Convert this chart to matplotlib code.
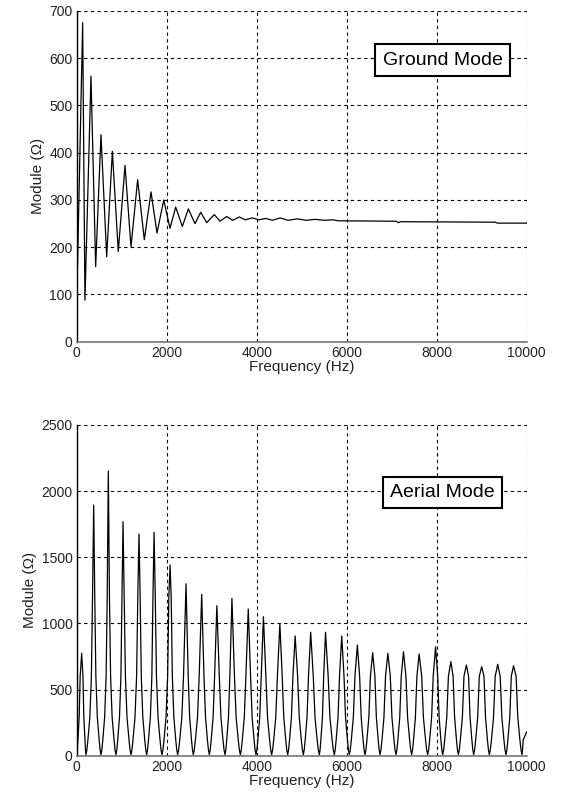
import numpy as np
import matplotlib.pyplot as plt
from matplotlib import font_manager

# values
ground_hz = [0, 133, 184, 318, 422, 540, 667, 793, 925, 1074, 1207, 1355, 1503, 1652,
             1785, 1935, 2074, 2200, 2348, 2481, 2630, 2756, 2889, 3059, 3185, 3333,
             3467, 3615, 3750, 3900, 4050, 4200, 4350, 4520, 4700, 4900, 5100, 5300,
             5500, 5700, 5800, 7100, 7150, 7200, 9300, 9350, 10000]
ground_val = [75, 675, 88, 562, 159, 438, 180, 403, 191, 373, 201, 343, 216, 317,
              230, 300, 240, 285, 244, 281, 250, 274, 252, 269, 255, 265,
              257, 264, 258, 262, 258, 261, 257, 262, 257, 260, 257, 259,
              257, 258, 256, 255, 252, 254, 253, 251, 251]

aerial_peak_hz = [111, 378, 703, 1030, 1385, 1720, 2075, 2430, 2778, 3115, 3450, 3813,
                  4150, 4515, 4855, 5200, 5530, 5890, 6237, 6578, 6915, 7262, 7610,
                  7975, 8315, 8660, 9000, 9356, 9708]
aerial_peak_val = [774, 1895, 2152, 1769, 1676, 1689, 1442, 1300, 1220, 1134, 1190, 1109,
                   1051, 996, 905, 933, 933, 905, 837, 779, 774, 786, 769,
                   824, 711, 686, 673, 691, 680]
aerial_trough_hz = [0, 207, 540, 873, 1207, 1555, 1896, 2244, 2592, 2948, 3296, 3637,
                    3985, 4333, 4689, 5037, 5392, 5725, 6059, 6407, 6741, 7096, 7444,
                    7800, 8133, 8481, 8822, 9170, 9540, 9896]
aerial_trough_val = [0, 8, 8, 8, 8, 8, 8, 8, 8, 8, 8, 8,
                     8, 8, 8, 8, 8, 8, 8, 8, 8, 8, 8,
                     8, 8, 8, 8, 8, 8, 8]
aerial_end_val = 180

# shape of the flanks between a trough and a peak
flank_frac = [0.12, 0.25, 0.5, 0.7, 0.85]
flank_level = [45, 120, 290, 600, 1200]

# build the aerial line: trough -> flank -> peak -> flank -> trough
ax_hz, ax_val = [], []
for i, (ph, pv) in enumerate(zip(aerial_peak_hz, aerial_peak_val)):
    t0 = aerial_trough_hz[i]
    t1 = aerial_trough_hz[i + 1]
    ax_hz.append(t0)
    ax_val.append(aerial_trough_val[i])
    for f, lv in zip(flank_frac, flank_level):
        if lv < 0.9 * pv:
            ax_hz.append(t0 + f * (ph - t0))
            ax_val.append(lv)
    ax_hz.append(ph)
    ax_val.append(pv)
    for f, lv in zip(flank_frac[::-1], flank_level[::-1]):
        if lv < 0.9 * pv:
            ax_hz.append(t1 - f * (t1 - ph))
            ax_val.append(lv)
ax_hz.append(aerial_trough_hz[-1])
ax_val.append(aerial_trough_val[-1])
for f, lv in zip(flank_frac, flank_level):
    if lv < aerial_end_val:
        ax_hz.append(aerial_trough_hz[-1] + f * (10000 - aerial_trough_hz[-1]))
        ax_val.append(lv)
ax_hz.append(10000)
ax_val.append(aerial_end_val)

names = {f.name for f in font_manager.fontManager.ttflist}
fam = 'Liberation Sans Narrow' if 'Liberation Sans Narrow' in names else 'Liberation Sans'
plt.rcParams['font.family'] = [fam, 'DejaVu Sans']

fig = plt.figure(figsize=(5.65, 7.96), dpi=100)
ax1 = fig.add_axes([0.1357, 0.5707, 0.7965, 0.4155])
ax2 = fig.add_axes([0.1357, 0.0506, 0.7965, 0.4155])


def style(ax, ymax, ystep, box_y, label):
    ax.set_xlim(0, 10000)
    ax.set_ylim(0, ymax)
    ax.set_xticks(range(0, 10001, 2000))
    ax.set_yticks(range(0, ymax + 1, ystep))
    ax.grid(True, color='black', linestyle=(0, (3, 3)), linewidth=0.8)
    ax.spines['top'].set_visible(False)
    ax.spines['right'].set_visible(False)
    ax.spines['left'].set_linewidth(1.0)
    ax.spines['bottom'].set_color('#777777')
    ax.spines['bottom'].set_linewidth(1.2)
    ax.tick_params(direction='in', length=0, labelsize=10, pad=3, labelcolor='#222222')
    ax.set_xlabel('Frequency (Hz)', fontsize=11, labelpad=0, color='#222222')
    ax.set_ylabel('Module (\u03a9)', fontsize=11, labelpad=3, color='#222222')
    ax.text(8130, box_y, label, fontsize=14, ha='center', va='center',
            bbox=dict(boxstyle='square,pad=0.38', fc='white', ec='black', lw=1.5))


ax1.plot(ground_hz, ground_val, color='black', linewidth=0.9)
style(ax1, 700, 100, 596, 'Ground Mode')

ax2.plot(ax_hz, ax_val, color='black', linewidth=0.9)
style(ax2, 2500, 500, 1990, 'Aerial Mode')

fig.savefig('out.png', dpi=100)
